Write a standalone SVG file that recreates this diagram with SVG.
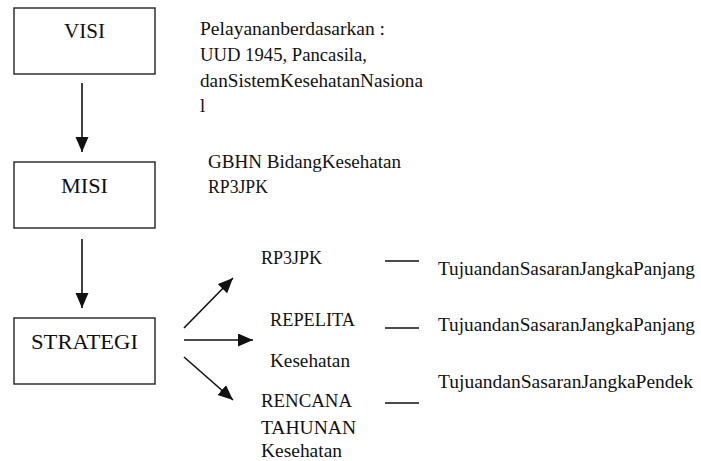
<svg xmlns="http://www.w3.org/2000/svg" width="701" height="461" viewBox="0 0 701 461">
<defs>
<marker id="ah" markerUnits="userSpaceOnUse" markerWidth="16" markerHeight="14" refX="15" refY="6.5" orient="auto">
<path d="M0,0 L15,6.5 L0,13 Z" fill="#111"/>
</marker>
<style>
.box{fill:#fff;stroke:#222;stroke-width:1.4}
.big{font-family:'Liberation Serif','Times New Roman',serif;font-size:21.5px;fill:#111;text-anchor:middle}
.t{font-family:'Liberation Serif','Times New Roman',serif;font-size:18.5px;fill:#111}
.c{stroke:#111;stroke-width:1.6;fill:none}
.d{stroke:#111;stroke-width:1.6}
</style>
</defs>
<rect width="701" height="461" fill="#fff"/>
<g id="visi"><rect class="box" x="14" y="8" width="141" height="66"/><text class="big" x="84.5" y="37.5" textLength="41" lengthAdjust="spacingAndGlyphs">VISI</text></g>
<g id="misi"><rect class="box" x="14" y="162" width="141" height="66"/><text class="big" x="84.5" y="192.5" textLength="47" lengthAdjust="spacingAndGlyphs">MISI</text></g>
<g id="strategi"><rect class="box" x="14" y="318" width="141" height="66"/><text class="big" x="84.5" y="348.5" textLength="107" lengthAdjust="spacingAndGlyphs">STRATEGI</text></g>
<g id="connectors">
<line class="c" x1="82" y1="83" x2="82" y2="152" marker-end="url(#ah)"/>
<line class="c" x1="82" y1="239" x2="82" y2="308" marker-end="url(#ah)"/>
<line class="c" x1="184" y1="328" x2="233" y2="278" marker-end="url(#ah)"/>
<line class="c" x1="184" y1="340" x2="253" y2="340" marker-end="url(#ah)"/>
<line class="c" x1="184" y1="357" x2="233" y2="400" marker-end="url(#ah)"/>
<line class="d" x1="385" y1="261" x2="419" y2="261"/>
<line class="d" x1="385" y1="328" x2="419" y2="328"/>
<line class="d" x1="385" y1="403" x2="419" y2="403"/>
</g>
<g id="dasar">
<text class="t" x="200" y="35" textLength="185" lengthAdjust="spacingAndGlyphs">Pelayananberdasarkan :</text>
<text class="t" x="200" y="61" textLength="167" lengthAdjust="spacingAndGlyphs">UUD 1945, Pancasila,</text>
<text class="t" x="200" y="87" textLength="223" lengthAdjust="spacingAndGlyphs">danSistemKesehatanNasiona</text>
<text class="t" x="200" y="112">l</text>
</g>
<g id="gbhn">
<text class="t" x="208" y="168" textLength="193" lengthAdjust="spacingAndGlyphs">GBHN BidangKesehatan</text>
<text class="t" x="208" y="193" textLength="60" lengthAdjust="spacingAndGlyphs">RP3JPK</text>
</g>
<g id="rp3jpk"><text class="t" x="261" y="264" textLength="61" lengthAdjust="spacingAndGlyphs">RP3JPK</text></g>
<g id="repelita"><text class="t" x="270" y="326" textLength="85" lengthAdjust="spacingAndGlyphs">REPELITA</text><text class="t" x="270" y="367" textLength="80" lengthAdjust="spacingAndGlyphs">Kesehatan</text></g>
<g id="rencana"><text class="t" x="261" y="407" textLength="91" lengthAdjust="spacingAndGlyphs">RENCANA</text><text class="t" x="261" y="434" textLength="95" lengthAdjust="spacingAndGlyphs">TAHUNAN</text><text class="t" x="261" y="457" textLength="81" lengthAdjust="spacingAndGlyphs">Kesehatan</text></g>
<g id="tujuan1"><text class="t" x="438" y="275" textLength="257" lengthAdjust="spacingAndGlyphs">TujuandanSasaranJangkaPanjang</text></g>
<g id="tujuan2"><text class="t" x="438" y="331" textLength="257" lengthAdjust="spacingAndGlyphs">TujuandanSasaranJangkaPanjang</text></g>
<g id="tujuan3"><text class="t" x="438" y="388" textLength="255" lengthAdjust="spacingAndGlyphs">TujuandanSasaranJangkaPendek</text></g>
</svg>
